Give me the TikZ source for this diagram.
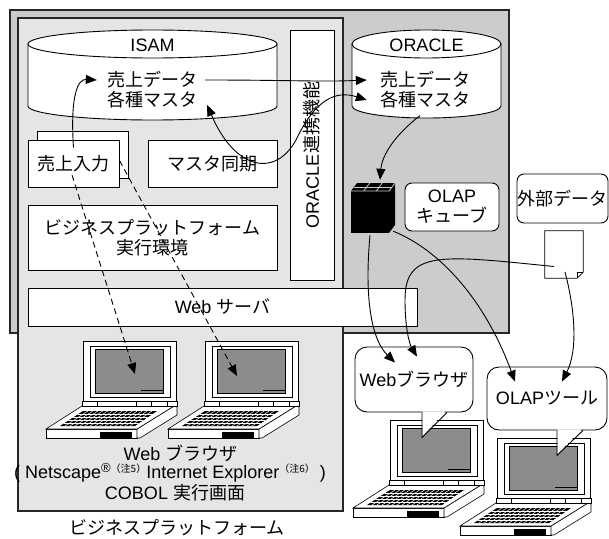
\documentclass[tikz,border=0pt]{standalone}
\usepackage{fontspec}
\setmainfont{Liberation Sans}
\newfontfamily\jp{Noto Sans CJK JP}
\usetikzlibrary{arrows.meta}
\definecolor{outerfill}{gray}{0.8}
\definecolor{innerfill}{gray}{0.9}
\definecolor{screenfill}{gray}{0.55}
\newcommand\smallsup[1]{\raisebox{0.6ex}{\fontsize{10}{10}\selectfont #1}}

\begin{document}
\begin{tikzpicture}[x=1pt,y=-1pt,
  every node/.style={font=\fontsize{18}{20}\selectfont, align=center, inner sep=0pt},
  frame/.style={draw=black!85, line width=1.3pt},
  box/.style={draw, fill=white, line width=0.9pt},
  rbox/.style={box, rounded corners=7pt},
  link/.style={line width=0.9pt, -{Triangle[length=11pt,width=9pt]}},
  duallink/.style={line width=0.9pt, {Triangle[length=11pt,width=9pt]}-{Triangle[length=11pt,width=9pt]}},
  dashlink/.style={link, dash pattern=on 6pt off 4pt},
  laptop/.pic={
    % base: front face, right side, keyboard deck
    \draw[fill=white, line width=0.6pt] (-37,88) rectangle (54,97);
    \fill (17,91) rectangle (49,97);
    \draw[fill=white, line width=0.6pt] (54,88) -- (91,65) -- (94,66) -- (94,74) -- (57,97) -- (54,97) -- cycle;
    \draw[fill=white, line width=0.6pt] (-37,88) -- (-1,65) -- (91,65) -- (54,88) -- cycle;
    \begin{scope}
      \clip (0,70) -- (74,70) -- (52,85) -- (-23,85) -- cycle;
      \fill (0,70) -- (74,70) -- (52,85) -- (-23,85) -- cycle;
      \foreach \r in {73,76,79,82} \draw[white, line width=0.5pt] (-30,\r) -- (80,\r);
      \foreach \k in {1,...,14} \draw[white, line width=0.5pt] ({74*\k/15},70) -- ({-23+75*\k/15},85);
    \end{scope}
    % hinge
    \draw[fill=white, line width=0.6pt] (-1,60) rectangle (94,65);
    \foreach \h in {14,53,68,84} \draw[line width=1pt] (\h,60) -- (\h,65);
    % lid and screen
    \draw[fill=white, line width=0.8pt] (0,0) rectangle (93,60);
    \draw[fill=white, line width=0.6pt] (7,5) rectangle (87,56);
    \draw[fill=screenfill, line width=0.8pt] (12,8) rectangle (80,52);
    \draw[line width=1.6pt] (58,49.5) -- (80,49.5);
    \coordinate (-screen) at (46,30);
  }
]
\useasboundingbox (0,0) rectangle (609,538);

% enclosing areas
\draw[frame, fill=outerfill] (10,10) rectangle (509,333);
\draw[frame, fill=innerfill] (18,18) rectangle (343,511);

% ISAM database
\filldraw[fill=white, line width=0.9pt] (28,44) -- (28,106)
  arc[start angle=180, end angle=0, x radius=124.5, y radius=14] -- (277,44) -- cycle;
\draw[fill=white, line width=0.9pt] (152.5,44) ellipse [x radius=124.5, y radius=14];
\node (isam) at (152.5,45) {ISAM};
\node (isamS) at (152,80) {\jp 売上データ};
\node (isamM) at (152,100) {\jp 各種マスタ};

% ORACLE database
\filldraw[fill=white, line width=0.9pt] (352,44) -- (352,106)
  arc[start angle=180, end angle=0, x radius=74.5, y radius=12] -- (501,44) -- cycle;
\draw[fill=white, line width=0.9pt] (426.5,44) ellipse [x radius=74.5, y radius=14];
\node (ora) at (426.5,45) {ORACLE};
\node (oraS) at (425,80) {\jp 売上データ};
\node (oraM) at (425,100) {\jp 各種マスタ};

% application boxes
\node[box, minimum width=91pt, minimum height=47pt] (inputBack) at (82.5,154.5) {};
\node[box, minimum width=91pt, minimum height=47pt] (input) at (73.5,163.5) {\jp 売上入力};
\node[box, minimum width=129pt, minimum height=47pt] (sync) at (212.5,163.5) {\jp マスタ同期};
\node[box, minimum width=249pt, minimum height=65pt] (env) at (152.5,237.5) {\jp ビジネスプラットフォーム\\\jp 実行環境};
\node[box, minimum width=44pt, minimum height=250pt] (oralink) at (312,155) {};
\node[rotate=90] at (oralink) {ORACLE{\jp 連携機能}};
\node[box, minimum width=389pt, minimum height=38pt] (web) at (222.5,307) {Web {\jp サーバ}};

% OLAP cube
\node[minimum width=44pt, minimum height=50pt] (cube) at (373,208) {};
\fill (351,191) rectangle (389,233);
\fill (389,191) -- (395,183) -- (395,225) -- (389,233) -- cycle;
\fill (351,191) -- (389,191) -- (395,183) -- (357,183) -- cycle;
\begin{scope}[draw=gray!40, line width=0.8pt]
  \draw (351,191) -- (389,191) -- (395,183);
  \draw (363.7,191) -- (369.7,183);
  \draw (376.3,191) -- (382.3,183);
  \draw (354,187) -- (392,187);
\end{scope}
\node[rbox, minimum width=94pt, minimum height=48pt] (olapcube) at (452,207) {OLAP\\\jp キューブ};

% external data
\node[rbox, minimum width=91pt, minimum height=49pt] (ext) at (562.5,198.5) {\jp 外部データ};
\node[minimum width=38pt, minimum height=47pt] (doc) at (564,254.5) {};
\draw[fill=white, line width=0.7pt] (doc.north west) -- (doc.north east)
  -- ([yshift=6pt]doc.south east) -- ([xshift=-6pt]doc.south east) -- (doc.south west) -- cycle;
\draw[line width=0.7pt] ([yshift=6pt]doc.south east) -- ([xshift=-6pt,yshift=6pt]doc.south east) -- ([xshift=-6pt]doc.south east);

% client machines
\pic (lap1) at (83,341) {laptop};
\pic (lap2) at (205,341) {laptop};
\pic (lap3) at (390,420) {laptop};
\pic (lap4) at (497,438) {laptop};

% speech bubbles
\node[box, rounded corners=12pt, minimum width=118pt, minimum height=65pt] (webcall) at (414,379.5) {Web{\jp ブラウザ}};
\fill[white] ([xshift=8.4pt,yshift=1pt]webcall.south) -- ([xshift=8.4pt,yshift=-24pt]webcall.south) -- ([xshift=31pt,yshift=1pt]webcall.south) -- cycle;
\draw[line width=0.9pt] ([xshift=8pt]webcall.south) -- ([xshift=8pt,yshift=-25pt]webcall.south) -- ([xshift=33pt]webcall.south);

\node[box, rounded corners=12pt, minimum width=120pt, minimum height=63pt] (olapcall) at (547,398.5) {OLAP{\jp ツール}};
\fill[white] ([xshift=10.4pt,yshift=1pt]olapcall.south) -- ([xshift=10.4pt,yshift=-24pt]olapcall.south) -- ([xshift=34pt,yshift=1pt]olapcall.south) -- cycle;
\draw[line width=0.9pt] ([xshift=10pt]olapcall.south) -- ([xshift=10pt,yshift=-25pt]olapcall.south) -- ([xshift=36pt]olapcall.south);

% captions
\node (cap1) at (180.5,453) {Web {\jp ブラウザ}};
\node (cap2) at (170,473) {( Netscape\smallsup{\fontsize{13}{13}\selectfont ®}\smallsup{\jp （注5）}Internet Explorer\smallsup{\jp （注6）} )};
\node (cap3) at (175,493) {COBOL {\jp 実行画面}};
\node (cap4) at (177,528) {\jp ビジネスプラットフォーム};

% data flows
\draw[link] ([yshift=-8pt]input.north) .. controls (70,95) and (78,79) .. ([xshift=-10pt]isamS.west);
\draw[link] ([xshift=8pt]isamS.east) .. controls (290,80) and (320,82) .. ([xshift=-13pt]oraS.west);
\draw[duallink]
  ([xshift=10pt,yshift=-5pt]isamM.east) .. controls (235,170) and (275,178) .. (296,140)
  .. controls (315,100) and (335,90) .. ([xshift=-13pt]oraM.west);
\draw[link] ([xshift=-5pt,yshift=-7pt]oraM.south) .. controls (395,135) and (382,155) .. ([xshift=7pt,yshift=3pt]cube.north);
\draw[link] ([xshift=-3pt,yshift=-2pt]cube.south) .. controls (364,300) and (372,340) .. ([xshift=-19pt,yshift=-16pt]webcall.north);
\draw[link] ([xshift=-10pt,yshift=-12pt]doc.center) .. controls (440,255) and (405,250) .. (405,300)
  .. controls (405,330) and (410,345) .. ([xshift=3pt,yshift=-10pt]webcall.north);
\draw[link] ([xshift=-2pt,yshift=2pt]cube.south east) .. controls (440,250) and (485,300) .. ([xshift=-32pt,yshift=-15pt]olapcall.north);
\draw[link] ([xshift=1pt,yshift=-17.5pt]doc.center) .. controls (575,310) and (578,350) .. ([xshift=15pt,yshift=-15pt]olapcall.north);

% screen output of the input form
\draw[dashlink] ([xshift=-1.5pt,yshift=-11.5pt]input.center) -- ([xshift=6pt,yshift=-3pt]lap1-screen);
\draw[dashlink] ([xshift=-9pt,yshift=-6pt]inputBack.east) -- ([xshift=-14pt,yshift=-5pt]lap2-screen);
\end{tikzpicture}
\end{document}
